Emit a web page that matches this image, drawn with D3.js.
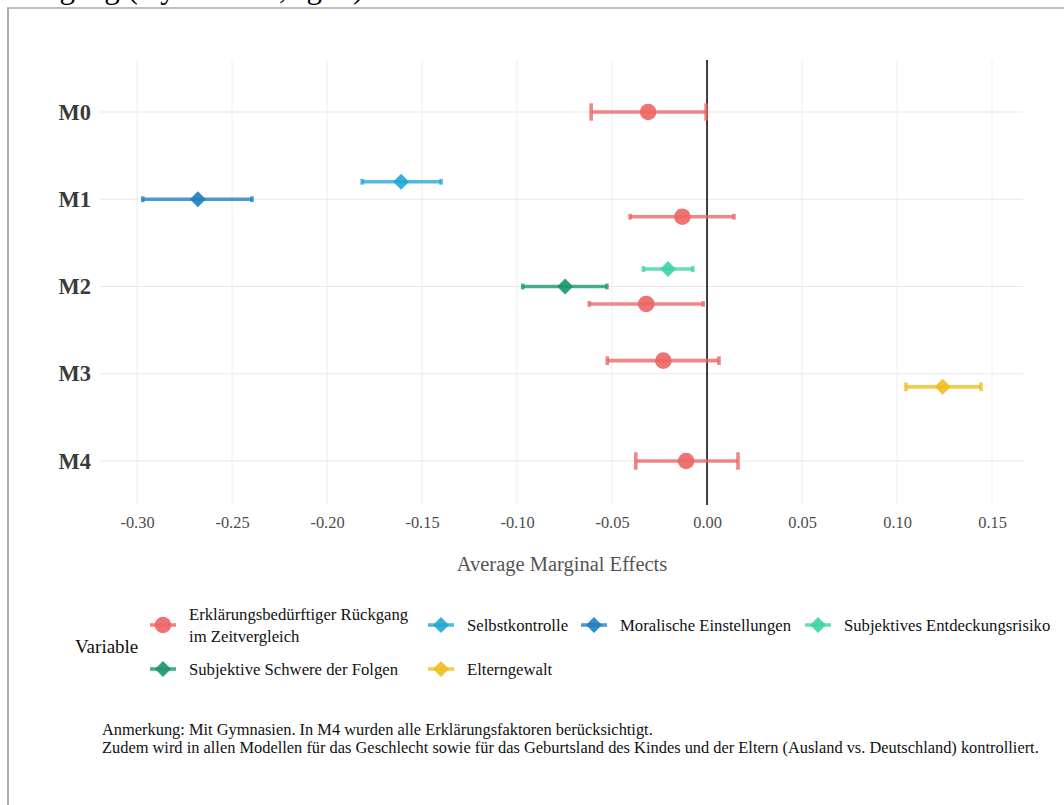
<!DOCTYPE html>
<html><head><meta charset="utf-8">
<script src="https://cdn.jsdelivr.net/npm/d3@7"></script>
<style>html,body{margin:0;padding:0;background:#fff;overflow:hidden}</style>
</head><body>
<svg id="chart" width="1064" height="805"></svg>
<script>
const models = ["M0","M1","M2","M3","M4"];
const variables = [
  "Erklärungsbedürftiger Rückgang im Zeitvergleich",
  "Selbstkontrolle",
  "Moralische Einstellungen",
  "Subjektives Entdeckungsrisiko",
  "Subjektive Schwere der Folgen",
  "Elterngewalt"
];
const legendLines = [
  ["Erklärungsbedürftiger Rückgang","im Zeitvergleich"],
  ["Selbstkontrolle"],["Moralische Einstellungen"],["Subjektives Entdeckungsrisiko"],
  ["Subjektive Schwere der Folgen"],["Elterngewalt"]
];
const variableColors = ["#EE6464","#22A7D6","#1F7FBF","#3ED3A6","#19966D","#F1BD1E"];
const variableShapes = ["circle","diamond","diamond","diamond","diamond","diamond"];

// rows (one per estimate)
const rowModel    = ["M0","M1","M1","M1","M2","M2","M2","M3","M3","M4"];
const rowVariable = [0, 1, 2, 0, 3, 4, 0, 0, 5, 0];
const estimate    = [-0.031,-0.161,-0.268,-0.013,-0.0205,-0.0747,-0.032,-0.023,0.124,-0.011];
const lower       = [-0.061,-0.1815,-0.297,-0.0405,-0.0335,-0.097,-0.062,-0.0525,0.1047,-0.0375];
const upper       = [-0.0005,-0.140,-0.2395,0.0142,-0.0075,-0.0527,-0.002,0.0063,0.1442,0.0163];
const xTicks      = [-0.30,-0.25,-0.20,-0.15,-0.10,-0.05,0.00,0.05,0.10,0.15];
const xTickLabels = ["-0.30","-0.25","-0.20","-0.15","-0.10","-0.05","0.00","0.05","0.10","0.15"];

const svg = d3.select("#chart");
const serif = "'Liberation Serif', 'Times New Roman', serif";

// frame & cut-off title
svg.append("text").attr("x",-6).attr("y",-2).attr("font-family",serif).attr("font-size",31)
  .attr("fill","#000").text("Rückgang (Gymnasien, Jg. 9)");
svg.append("line").attr("x1",7).attr("x2",1064).attr("y1",8).attr("y2",8).attr("stroke","#aaa").attr("stroke-width",1.5);
svg.append("line").attr("x1",8).attr("x2",8).attr("y1",8).attr("y2",805).attr("stroke","#aaa").attr("stroke-width",2);

const panel = {left:100, right:1023, top:60, bottom:505};
const x = d3.scaleLinear().domain([-0.3195, 0.1663]).range([panel.left, panel.right]);
const y = d3.scalePoint().domain(models).range([112, 461]);
const step = y.step();

const g = svg.append("g");
// gridlines
g.selectAll("line.vg").data(xTicks).join("line")
  .attr("x1",d=>x(d)).attr("x2",d=>x(d)).attr("y1",panel.top).attr("y2",panel.bottom)
  .attr("stroke","#efefef").attr("stroke-width",1.1);
g.selectAll("line.hg").data(models).join("line")
  .attr("x1",panel.left).attr("x2",panel.right).attr("y1",d=>y(d)).attr("y2",d=>y(d))
  .attr("stroke","#e8e8e8").attr("stroke-width",1.1);

// zero line
g.append("line").attr("x1",x(0)).attr("x2",x(0)).attr("y1",panel.top).attr("y2",panel.bottom)
  .attr("stroke","#111").attr("stroke-width",1.6);

// axes labels
const xAxis = d3.axisBottom(x).tickValues(xTicks).tickFormat((d,i)=>xTickLabels[i]).tickSize(0).tickPadding(0);
const xa = svg.append("g").attr("transform",`translate(0,${panel.bottom+11})`).call(xAxis);
xa.select(".domain").remove();
xa.selectAll("text").attr("font-family",serif).attr("font-size",16.4).attr("fill","#4d4d4d").attr("dy","0.71em");

const yAxis = d3.axisLeft(y).tickSize(0).tickPadding(0);
const ya = svg.append("g").attr("transform",`translate(91,0)`).call(yAxis);
ya.select(".domain").remove();
ya.selectAll("text").attr("font-family",serif).attr("font-size",22.5).attr("font-weight","bold").attr("fill","#3a3a3a");

svg.append("text").attr("x",562).attr("y",571).attr("text-anchor","middle")
  .attr("font-family",serif).attr("font-size",20.5).attr("fill","#555").text("Average Marginal Effects");

// data rows with dodge
const rows = rowModel.map((m,i)=>({m, v:rowVariable[i], est:estimate[i], lo:lower[i], hi:upper[i]}));
const groups = d3.group(rows, d=>d.m);
const dodgeW = 0.6*step;
groups.forEach(arr=>{
  const n = arr.length;
  arr.forEach((d,i)=>{ d.yy = y(d.m) + (i-(n-1)/2)*dodgeW/n; d.cap = 0.2*step/n; });
});

const marks = svg.append("g");
rows.forEach(d=>{
  const c = variableColors[d.v];
  const eg = marks.append("g").attr("stroke",c).attr("stroke-opacity",0.78).attr("stroke-width",3.6);
  eg.append("line").attr("x1",x(d.lo)).attr("x2",x(d.hi)).attr("y1",d.yy).attr("y2",d.yy);
  eg.append("line").attr("x1",x(d.lo)).attr("x2",x(d.lo)).attr("y1",d.yy-d.cap/2).attr("y2",d.yy+d.cap/2);
  eg.append("line").attr("x1",x(d.hi)).attr("x2",x(d.hi)).attr("y1",d.yy-d.cap/2).attr("y2",d.yy+d.cap/2);
});
function drawPoint(sel, shape, cx, cy, color){
  if(shape==="circle"){
    sel.append("circle").attr("cx",cx).attr("cy",cy).attr("r",8.3).attr("fill",color).attr("fill-opacity",0.9);
  } else {
    const s=8;
    sel.append("path").attr("d",`M${cx},${cy-s}L${cx+s},${cy}L${cx},${cy+s}L${cx-s},${cy}Z`)
      .attr("fill",color).attr("fill-opacity",0.9);
  }
}
rows.forEach(d=>drawPoint(marks, variableShapes[d.v], x(d.est), d.yy, variableColors[d.v]));

// legend
const leg = svg.append("g");
leg.append("text").attr("x",75).attr("y",653).attr("font-family",serif).attr("font-size",19).attr("fill","#111").text("Variable");
const legPos = [[150,625],[428,625],[581,625],[805,625],[150,669],[428,669]];
variables.forEach((v,i)=>{
  const [kx,ky] = legPos[i];
  const c = variableColors[i];
  leg.append("line").attr("x1",kx).attr("x2",kx+26).attr("y1",ky).attr("y2",ky).attr("stroke",c).attr("stroke-opacity",0.78).attr("stroke-width",3.6);
  drawPoint(leg, variableShapes[i], kx+13, ky, c);
  const lines = legendLines[i];
  const t = leg.append("text").attr("font-family",serif).attr("font-size",16.7).attr("fill","#111");
  lines.forEach((ln,j)=>{
    t.append("tspan").attr("x",kx+39).attr("y", ky + 5.5 + (j-(lines.length-1)/2)*22).text(ln);
  });
});

// note
const note = svg.append("text").attr("font-family",serif).attr("font-size",16.4).attr("fill","#111");
note.append("tspan").attr("x",102).attr("y",735).text("Anmerkung: Mit Gymnasien. In M4 wurden alle Erklärungsfaktoren berücksichtigt.");
note.append("tspan").attr("x",102).attr("y",753).text("Zudem wird in allen Modellen für das Geschlecht sowie für das Geburtsland des Kindes und der Eltern (Ausland vs. Deutschland) kontrolliert.");
</script>
</body></html>
